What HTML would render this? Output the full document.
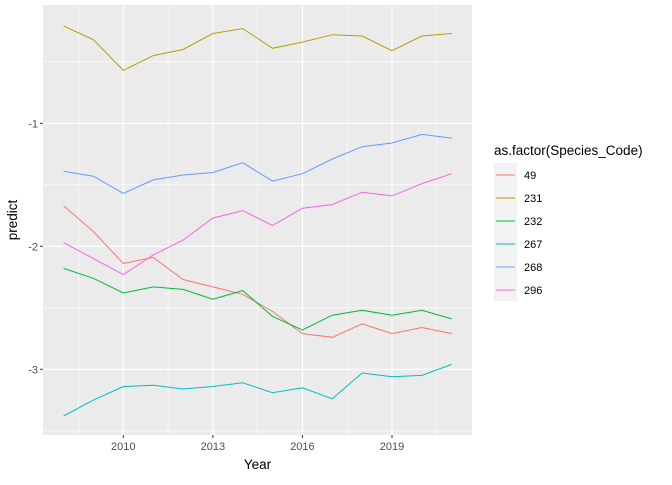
<!DOCTYPE html>
<html><head><meta charset="utf-8"><style>
body{margin:0;background:#fff;font-family:"Liberation Sans",Arial,sans-serif}
svg text{font-family:"Liberation Sans",Arial,sans-serif}
</style></head><body>
<svg id="chart" width="672" height="480" viewBox="0 0 672 480" xmlns="http://www.w3.org/2000/svg">
<rect x="0" y="0" width="672" height="480" fill="#fff"/>
<g id="plot"></g>
</svg>
<script>
const years=[2008,2009,2010,2011,2012,2013,2014,2015,2016,2017,2018,2019,2020,2021];
const seriesNames=["49","231","232","267","268","296"];
const seriesColors=["#F8766D","#B79F00","#00BA38","#00BFC4","#619CFF","#F564E3"];
const s49=[-1.67,-1.88,-2.14,-2.09,-2.27,-2.33,-2.39,-2.53,-2.71,-2.74,-2.63,-2.71,-2.66,-2.71];
const s231=[-0.21,-0.32,-0.57,-0.45,-0.40,-0.27,-0.23,-0.39,-0.34,-0.28,-0.29,-0.41,-0.29,-0.27];
const s232=[-2.18,-2.26,-2.38,-2.33,-2.35,-2.43,-2.36,-2.57,-2.68,-2.56,-2.52,-2.56,-2.52,-2.59];
const s267=[-3.38,-3.25,-3.14,-3.13,-3.16,-3.14,-3.11,-3.19,-3.15,-3.24,-3.03,-3.06,-3.05,-2.96];
const s268=[-1.39,-1.43,-1.57,-1.46,-1.42,-1.40,-1.32,-1.47,-1.41,-1.29,-1.19,-1.16,-1.09,-1.12];
const s296=[-1.97,-2.10,-2.23,-2.07,-1.95,-1.77,-1.71,-1.83,-1.69,-1.66,-1.56,-1.59,-1.49,-1.41];
const xTicks=[2010,2013,2016,2019];
const xTickLabels=["2010","2013","2016","2019"];
const xMinor=[2008.5,2011.5,2014.5,2017.5,2020.5];
const yTicks=[-1,-2,-3];
const yTickLabels=["-1","-2","-3"];
const yMinor=[-0.5,-1.5,-2.5,-3.5];

const allSeries=[s49,s231,s232,s267,s268,s296];
const P={l:43,r:472,t:5,b:435};
function xs(v){return 123.3+(v-2010)*(392-123.3)/9;}
function ys(v){return 123.3+(-1-v)*123;}
const NS="http://www.w3.org/2000/svg";
const g=document.getElementById('plot');
function mk(tag,attrs,parent){const e=document.createElementNS(NS,tag);for(const k in attrs)e.setAttribute(k,attrs[k]);(parent||g).appendChild(e);return e;}
let e=mk('rect',{x:P.l,y:P.t,width:P.r-P.l,height:P.b-P.t,fill:'#EBEBEB'});


xMinor.forEach(v=>{const l=mk('line',{x1:xs(v),x2:xs(v),y1:P.t,y2:P.b,stroke:'#fff','stroke-width':0.6});

});
yMinor.forEach(v=>{const l=mk('line',{x1:P.l,x2:P.r,y1:ys(v),y2:ys(v),stroke:'#fff','stroke-width':0.6});

});
xTicks.forEach((v,i)=>{const l=mk('line',{x1:xs(v),x2:xs(v),y1:P.t,y2:P.b,stroke:'#fff','stroke-width':1.2});


const t=mk('line',{x1:xs(v),x2:xs(v),y1:P.b,y2:P.b+3,stroke:'#333','stroke-width':1});


const tx=mk('text',{x:xs(v),y:P.b+15,'text-anchor':'middle','font-size':11,fill:'#4D4D4D'});tx.textContent=xTickLabels[i];

});
yTicks.forEach((v,i)=>{const l=mk('line',{x1:P.l,x2:P.r,y1:ys(v),y2:ys(v),stroke:'#fff','stroke-width':1.2});


const t=mk('line',{x1:P.l-3,x2:P.l,y1:ys(v),y2:ys(v),stroke:'#333','stroke-width':1});


const tx=mk('text',{x:P.l-5,y:ys(v)+4,'text-anchor':'end','font-size':11,fill:'#4D4D4D'});tx.textContent=yTickLabels[i];

});
allSeries.forEach((s,i)=>{const pts=s.map((v,j)=>xs(years[j]).toFixed(1)+','+ys(v).toFixed(1)).join(' ');
const p=mk('polyline',{points:pts,fill:'none',stroke:seriesColors[i],'stroke-width':1});

});
let t=mk('text',{x:(P.l+P.r)/2,y:469,'text-anchor':'middle','font-size':13.5,fill:'#000'});t.textContent='Year';


t=mk('text',{x:0,y:0,'text-anchor':'middle','font-size':13.5,fill:'#000',transform:'translate(17,220) rotate(-90)'});t.textContent='predict';


t=mk('text',{x:494,y:155,'font-size':13.5,fill:'#000'});t.textContent='as.factor(Species_Code)';


const kb=mk('rect',{x:494,y:163,width:23,height:138,fill:'#F2F2F2'});


seriesNames.forEach((n,i)=>{const y=175+i*23;
const l=mk('line',{x1:496,x2:515,y1:y,y2:y,stroke:seriesColors[i],'stroke-width':1});


const tx=mk('text',{x:524,y:y+4,'font-size':11,fill:'#000'});tx.textContent=n;

});
</script>
</body></html>
